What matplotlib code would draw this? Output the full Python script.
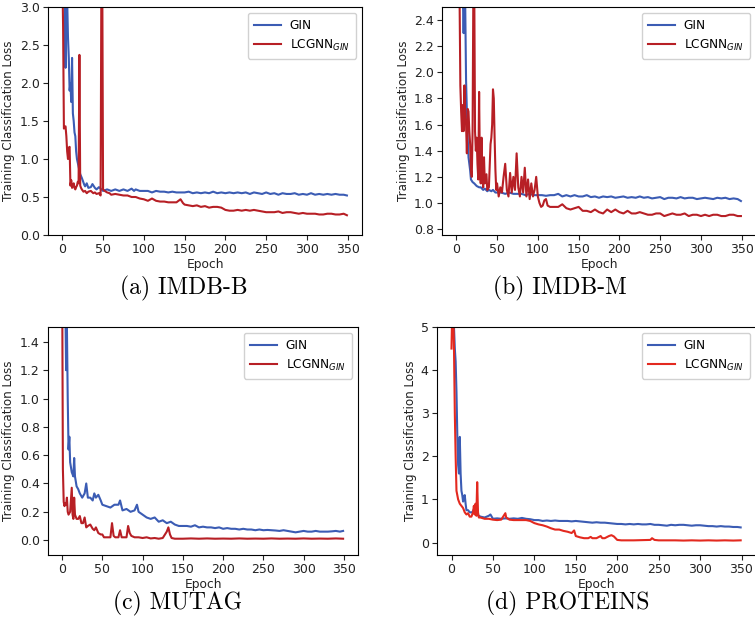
import matplotlib
matplotlib.use("Agg")
import matplotlib.pyplot as plt

# ---------------- data ----------------
epoch_ticks = [0, 50, 100, 150, 200, 250, 300, 350]

# (a) IMDB-B
imdbb_gin_ep = [0, 1, 2, 3, 4, 5, 6, 7, 8, 9, 10, 11, 12, 13, 14, 15, 16, 17, 18, 20, 22, 24, 25, 27, 28, 30, 32, 35, 37, 40, 42, 45, 48, 50,
                55, 60, 65, 70, 75, 80, 85, 88, 90, 95, 100, 105, 110, 115, 120, 125, 130, 135, 140, 145, 150, 155, 160, 165, 170,
                175, 180, 185, 190, 195, 200, 205, 210, 215, 220, 225, 230, 235, 240, 245, 250, 255, 260, 265, 270, 275, 280, 285,
                290, 295, 300, 305, 310, 315, 320, 325, 330, 335, 340, 345, 349]
imdbb_gin_loss = [4.0, 3.8, 3.5, 3.2, 2.2, 3.3, 3.1, 2.6, 2.33, 1.9, 2.0, 1.75, 2.33, 1.6, 1.5, 1.35, 1.3, 1.1, 1.0, 0.9, 0.8, 0.75, 0.72, 0.66, 0.64, 0.68, 0.62, 0.63, 0.67, 0.62, 0.6, 0.63, 0.6, 0.58,
                  0.6, 0.58, 0.6, 0.58, 0.6, 0.58, 0.61, 0.58, 0.6, 0.58, 0.58, 0.58, 0.56, 0.58, 0.57, 0.57, 0.56, 0.57, 0.56, 0.56,
                  0.56, 0.57, 0.55, 0.56, 0.55, 0.56, 0.55, 0.57, 0.55, 0.56, 0.55, 0.56, 0.55, 0.56, 0.55, 0.56, 0.54, 0.56, 0.55,
                  0.54, 0.56, 0.54, 0.55, 0.53, 0.55, 0.54, 0.54, 0.55, 0.53, 0.54, 0.53, 0.55, 0.53, 0.54, 0.53, 0.54, 0.53, 0.54,
                  0.53, 0.53, 0.52]
imdbb_lc_ep = [0, 1, 2, 3, 4, 5, 6, 7, 8, 9, 10, 11, 12, 13, 14, 15, 16, 17, 18, 19, 20, 21, 22, 23, 24, 26, 28, 30, 32, 35, 38, 40, 42, 45, 47, 48, 49, 50,
               52, 55, 58, 60, 65, 70, 75, 80, 85, 90, 95, 100, 105, 110, 115, 120, 125, 130, 135, 140, 145, 148, 150, 155, 160,
               165, 170, 175, 180, 185, 190, 195, 200, 205, 210, 215, 220, 225, 230, 235, 240, 245, 250, 255, 260, 265, 270, 275,
               280, 285, 290, 295, 300, 305, 310, 315, 320, 325, 330, 335, 340, 345, 349]
imdbb_lc_loss = [3.5, 2.75, 1.4, 1.42, 1.43, 1.3, 1.1, 1.0, 1.15, 1.16, 0.65, 0.72, 0.62, 0.66, 0.68, 0.62, 0.6, 0.63, 0.65, 0.7, 0.68, 2.37, 0.65, 0.62, 0.6, 0.57, 0.58, 0.55, 0.57, 0.58, 0.55, 0.56, 0.54, 0.55, 0.52, 3.5, 3.5, 0.6,
                 0.58, 0.56, 0.55, 0.53, 0.54, 0.53, 0.52, 0.52, 0.5, 0.5, 0.48, 0.47, 0.45, 0.48, 0.45, 0.44, 0.44, 0.43, 0.43, 0.43,
                 0.47, 0.42, 0.4, 0.39, 0.38, 0.39, 0.37, 0.38, 0.36, 0.37, 0.37, 0.36, 0.33, 0.32, 0.32, 0.33, 0.32, 0.33, 0.32,
                 0.33, 0.32, 0.31, 0.3, 0.3, 0.3, 0.31, 0.29, 0.3, 0.3, 0.29, 0.28, 0.29, 0.28, 0.28, 0.28, 0.27, 0.27, 0.28, 0.28,
                 0.27, 0.27, 0.28, 0.26]

# (b) IMDB-M
imdbm_gin_ep = [0, 2, 4, 6, 8, 9, 10, 11, 12, 13, 14, 15, 16, 17, 18, 20, 22, 25, 28, 30, 33, 35, 38, 40, 43, 45, 48, 50, 55, 60, 65, 70, 75,
                80, 85, 90, 95, 100, 105, 110, 115, 120, 125, 130, 135, 140, 145, 150, 155, 160, 165, 170, 175, 180, 185, 190, 195,
                200, 205, 210, 215, 220, 225, 230, 235, 240, 245, 250, 255, 260, 265, 270, 275, 280, 285, 290, 295, 300, 305, 310,
                315, 320, 325, 330, 335, 340, 345, 349]
imdbm_gin_loss = [3.5, 3.2, 3.0, 2.8, 2.6, 2.3, 2.6, 2.5, 1.94, 1.7, 1.5, 1.35, 1.3, 1.25, 1.18, 1.16, 1.15, 1.13, 1.12, 1.12, 1.1, 1.11, 1.09, 1.1, 1.09, 1.1, 1.08, 1.08,
                  1.08, 1.07, 1.08, 1.07, 1.07, 1.07, 1.06, 1.07, 1.06, 1.06, 1.06, 1.055, 1.06, 1.06, 1.07, 1.05, 1.06, 1.05, 1.06,
                  1.05, 1.05, 1.06, 1.045, 1.05, 1.04, 1.05, 1.045, 1.05, 1.04, 1.045, 1.05, 1.04, 1.045, 1.04, 1.05, 1.04, 1.045,
                  1.035, 1.04, 1.045, 1.03, 1.04, 1.04, 1.035, 1.045, 1.035, 1.04, 1.04, 1.03, 1.035, 1.04, 1.035, 1.03, 1.04,
                  1.035, 1.04, 1.03, 1.035, 1.03, 1.015]
imdbm_lc_ep = [2, 3, 4, 5, 6, 7, 8, 9, 10, 11, 12, 13, 14, 15, 16, 17, 18, 19, 20, 21, 22, 23, 24, 25, 26, 27, 28, 29, 30, 31, 32, 33, 34,
               35, 37, 38, 40, 42, 43, 44, 45, 46, 47, 48, 49, 50, 52, 54, 56, 58, 60, 62, 64, 66, 68, 70, 72, 74, 76, 78, 80, 82, 84,
               86, 88, 90, 92, 94, 96, 98, 100, 102, 104, 106, 108, 110, 112, 115, 120, 125, 130, 135, 140, 145, 150, 155, 160,
               165, 170, 175, 180, 185, 190, 195, 200, 205, 210, 215, 220, 225, 230, 235, 240, 245, 250, 255, 260, 265, 270, 275,
               280, 285, 290, 295, 300, 305, 310, 315, 320, 325, 330, 335, 340, 345, 349]
imdbm_lc_loss = [3.0, 2.8, 2.6, 1.9, 1.7, 1.55, 1.75, 1.55, 1.9, 1.65, 1.6, 1.38, 1.72, 1.7, 1.55, 1.45, 1.25, 1.2, 1.55, 2.7, 2.7, 1.55, 1.4, 1.5, 1.3, 1.18, 1.85, 1.25, 1.15, 1.5, 1.2, 1.12, 1.35,
                 1.15, 1.22, 1.1, 1.12, 1.45, 1.5, 1.6, 1.87, 1.8, 1.5, 1.25, 1.1, 1.15, 1.05, 1.12, 1.08, 1.2, 1.3, 1.1, 1.05, 1.23,
                 1.08, 1.2, 1.1, 1.38, 1.12, 1.05, 1.2, 1.08, 1.27, 1.05, 1.18, 1.03, 1.15, 1.05, 1.1, 1.2, 1.05, 1.0, 0.97, 0.98,
                 1.02, 1.03, 0.98, 0.97, 0.97, 0.97, 0.99, 0.96, 0.95, 0.96, 0.97, 0.94, 0.94, 0.93, 0.95, 0.93, 0.92, 0.95, 0.93,
                 0.95, 0.93, 0.92, 0.94, 0.92, 0.92, 0.93, 0.92, 0.91, 0.91, 0.92, 0.92, 0.9, 0.91, 0.92, 0.91, 0.91, 0.92, 0.9,
                 0.91, 0.91, 0.9, 0.91, 0.9, 0.91, 0.91, 0.9, 0.9, 0.91, 0.91, 0.9, 0.9]

# (c) MUTAG
mutag_gin_ep = [0, 2, 4, 5, 6, 7, 8, 9, 10, 12, 14, 15, 16, 18, 20, 22, 25, 28, 30, 32, 35, 38, 40, 42, 45, 48, 50, 55, 60, 65, 70, 72, 75,
                80, 85, 90, 93, 95, 100, 105, 110, 115, 120, 125, 130, 135, 140, 145, 150, 155, 160, 165, 170, 175, 180, 185, 190,
                195, 200, 205, 210, 215, 220, 225, 230, 235, 240, 245, 250, 255, 260, 265, 270, 275, 280, 285, 290, 295, 300, 305,
                310, 315, 320, 325, 330, 335, 340, 345, 349]
mutag_gin_loss = [2.5, 2.0, 1.7, 1.2, 1.5, 1.0, 0.64, 0.73, 0.55, 0.48, 0.45, 0.58, 0.45, 0.38, 0.36, 0.33, 0.3, 0.33, 0.4, 0.3, 0.3, 0.28, 0.33, 0.3, 0.32, 0.28, 0.25,
                  0.24, 0.23, 0.25, 0.25, 0.28, 0.21, 0.22, 0.2, 0.21, 0.25, 0.2, 0.18, 0.16, 0.15, 0.16, 0.13, 0.14, 0.12, 0.13,
                  0.11, 0.1, 0.1, 0.1, 0.095, 0.105, 0.09, 0.095, 0.09, 0.09, 0.085, 0.09, 0.08, 0.085, 0.08, 0.08, 0.075, 0.08,
                  0.075, 0.075, 0.07, 0.075, 0.07, 0.072, 0.07, 0.068, 0.065, 0.07, 0.065, 0.06, 0.055, 0.06, 0.065, 0.06, 0.06,
                  0.065, 0.06, 0.06, 0.06, 0.062, 0.065, 0.06, 0.065]
mutag_lc_ep = [0, 1, 2, 3, 4, 5, 6, 7, 8, 10, 12, 13, 14, 15, 16, 18, 20, 22, 24, 26, 28, 30, 32, 35, 38, 40, 42, 45, 48, 50, 52, 55, 58, 60,
               62, 64, 66, 70, 72, 74, 80, 82, 84, 86, 90, 95, 100, 105, 110, 115, 120, 125, 130, 132, 134, 136, 140, 150, 160, 170,
               180, 190, 200, 210, 220, 230, 240, 250, 260, 270, 280, 290, 300, 310, 320, 330, 340, 349]
mutag_lc_loss = [2.0, 0.5, 0.27, 0.24, 0.26, 0.25, 0.3, 0.2, 0.18, 0.2, 0.37, 0.18, 0.15, 0.3, 0.18, 0.15, 0.15, 0.17, 0.12, 0.12, 0.16, 0.09, 0.1, 0.11, 0.08, 0.07, 0.09, 0.05, 0.04, 0.04, 0.02, 0.02, 0.02, 0.02,
                 0.12, 0.03, 0.02, 0.02, 0.07, 0.02, 0.02, 0.1, 0.05, 0.03, 0.02, 0.02, 0.015, 0.02, 0.012, 0.015, 0.01, 0.015,
                 0.06, 0.09, 0.04, 0.015, 0.01, 0.01, 0.012, 0.01, 0.012, 0.01, 0.011, 0.01, 0.012, 0.01, 0.011, 0.01, 0.012,
                 0.01, 0.011, 0.01, 0.012, 0.01, 0.011, 0.01, 0.012, 0.01]

# (d) PROTEINS
proteins_gin_ep = [0, 2, 3, 4, 5, 6, 7, 8, 9, 10, 11, 12, 13, 14, 15, 16, 17, 18, 20, 22, 25, 28, 30, 35, 40, 45, 47, 50, 55, 60, 65, 70,
                   75, 80, 85, 90, 95, 100, 105, 110, 115, 120, 125, 130, 135, 140, 145, 150, 155, 160, 165, 170, 175, 180, 185, 190,
                   195, 200, 205, 210, 215, 220, 225, 230, 235, 240, 245, 250, 255, 260, 265, 270, 275, 280, 285, 290, 295, 300, 305,
                   310, 315, 320, 325, 330, 335, 340, 345, 349]
proteins_gin_loss = [5.5, 5.2, 5.0, 4.5, 4.2, 3.5, 2.5, 1.8, 1.6, 2.45, 1.6, 1.2, 1.1, 0.95, 1.05, 1.1, 0.9, 0.75, 0.75, 0.7, 0.7, 0.8, 0.65, 0.6, 0.58, 0.62, 0.65, 0.55,
                     0.56, 0.55, 0.56, 0.55, 0.56, 0.55, 0.57, 0.55, 0.54, 0.52, 0.52, 0.5, 0.51, 0.5, 0.51, 0.5, 0.5, 0.5, 0.49,
                     0.5, 0.49, 0.48, 0.47, 0.46, 0.47, 0.46, 0.46, 0.45, 0.44, 0.43, 0.43, 0.42, 0.43, 0.42, 0.43, 0.42, 0.42,
                     0.43, 0.41, 0.41, 0.4, 0.39, 0.41, 0.4, 0.41, 0.41, 0.4, 0.39, 0.4, 0.4, 0.39, 0.38, 0.38, 0.37, 0.38, 0.37,
                     0.37, 0.36, 0.36, 0.35]
proteins_lc_ep = [0, 1, 2, 3, 4, 5, 6, 7, 8, 10, 12, 14, 16, 18, 20, 22, 24, 26, 27, 28, 29, 30, 31, 32, 33, 35, 40, 45, 50, 55, 60, 65, 66,
                  70, 75, 80, 85, 90, 95, 100, 105, 110, 115, 120, 125, 130, 135, 140, 145, 148, 150, 155, 160, 165, 168, 170, 175,
                  180, 182, 185, 190, 193, 196, 200, 205, 210, 220, 230, 240, 242, 245, 250, 260, 270, 280, 290, 300, 310, 320, 330,
                  340, 349]
proteins_lc_loss = [4.5, 5.5, 5.5, 4.5, 3.0, 2.0, 1.2, 1.1, 1.0, 0.9, 0.85, 0.8, 0.7, 0.65, 0.68, 0.6, 0.6, 0.7, 0.85, 0.65, 0.9, 0.62, 1.4, 0.7, 0.58, 0.58, 0.55, 0.55, 0.53, 0.52, 0.53, 0.68, 0.58,
                    0.53, 0.52, 0.52, 0.52, 0.52, 0.5, 0.45, 0.42, 0.4, 0.37, 0.33, 0.3, 0.3, 0.27, 0.25, 0.22, 0.28, 0.15, 0.12,
                    0.1, 0.1, 0.13, 0.1, 0.1, 0.15, 0.1, 0.1, 0.15, 0.17, 0.14, 0.06, 0.05, 0.05, 0.05, 0.055, 0.06, 0.1, 0.06, 0.05,
                    0.05, 0.05, 0.045, 0.05, 0.045, 0.05, 0.045, 0.05, 0.045, 0.05]

panels = [
    dict(gx=imdbb_gin_ep, gy=imdbb_gin_loss, lx=imdbb_lc_ep, ly=imdbb_lc_loss, ylim=(0, 3.0),
         yticks=[0.0, 0.5, 1.0, 1.5, 2.0, 2.5, 3.0], fmt="{:.1f}", caption="(a) IMDB-B", red="#b71f25"),
    dict(gx=imdbm_gin_ep, gy=imdbm_gin_loss, lx=imdbm_lc_ep, ly=imdbm_lc_loss, ylim=(0.755, 2.5),
         yticks=[0.8, 1.0, 1.2, 1.4, 1.6, 1.8, 2.0, 2.2, 2.4], fmt="{:.1f}", caption="(b) IMDB-M", red="#b71f25"),
    dict(gx=mutag_gin_ep, gy=mutag_gin_loss, lx=mutag_lc_ep, ly=mutag_lc_loss, ylim=(-0.105, 1.505),
         yticks=[0.0, 0.2, 0.4, 0.6, 0.8, 1.0, 1.2, 1.4], fmt="{:.1f}", caption="(c) MUTAG", red="#b71f25"),
    dict(gx=proteins_gin_ep, gy=proteins_gin_loss, lx=proteins_lc_ep, ly=proteins_lc_loss, ylim=(-0.29, 5.0),
         yticks=[0, 1, 2, 3, 4, 5], fmt="{:d}", caption="(d) PROTEINS", red="#e3291f"),
]

W, H = 755, 625
fig = plt.figure(figsize=(W / 100, H / 100), dpi=100)
plt.rcParams['font.family'] = ['DejaVu Sans']

# axes boxes in pixels: left, top, right, bottom
boxes = [(48, 7, 362, 235), (442, 7, 756, 235), (48, 327, 358, 555), (437, 327, 756, 555)]
caption_pos = [(184, 288), (560, 288), (178, 603), (568, 603)]

blue = "#3b5cb4"
for p, (l, t, r, b), (cx, cy) in zip(panels, boxes, caption_pos):
    ax = fig.add_axes([l / W, 1 - b / H, (r - l) / W, (b - t) / H])
    ax.plot(p["gx"], p["gy"], color=blue, lw=1.5, label="GIN")
    ax.plot(p["lx"], p["ly"], color=p["red"], lw=1.5, label="LCGNN$_{GIN}$")
    ax.set_xlim(-17.5, 367.5)
    ax.set_ylim(*p["ylim"])
    ax.set_xticks(epoch_ticks)
    ax.set_yticks(p["yticks"])
    ax.set_yticklabels([p["fmt"].format(v) for v in p["yticks"]])
    ax.tick_params(labelsize=9, colors="#222222", length=3.5, width=0.8, pad=2.5)
    ax.set_xlabel("Epoch", fontsize=8.8, labelpad=1, color="#222222")
    ax.set_ylabel("Training Classification Loss", fontsize=8.6, labelpad=3, color="#222222")
    ax.legend(loc="upper right", fontsize=8.7, frameon=True, fancybox=True, framealpha=0.9,
              handlelength=2.3, handletextpad=0.7, borderpad=0.5, labelspacing=0.45)
    fig.text(cx / W, 1 - cy / H, p["caption"], family="cmr10", fontsize=17, ha="center", va="center")

fig.savefig("out.png", dpi=100)
